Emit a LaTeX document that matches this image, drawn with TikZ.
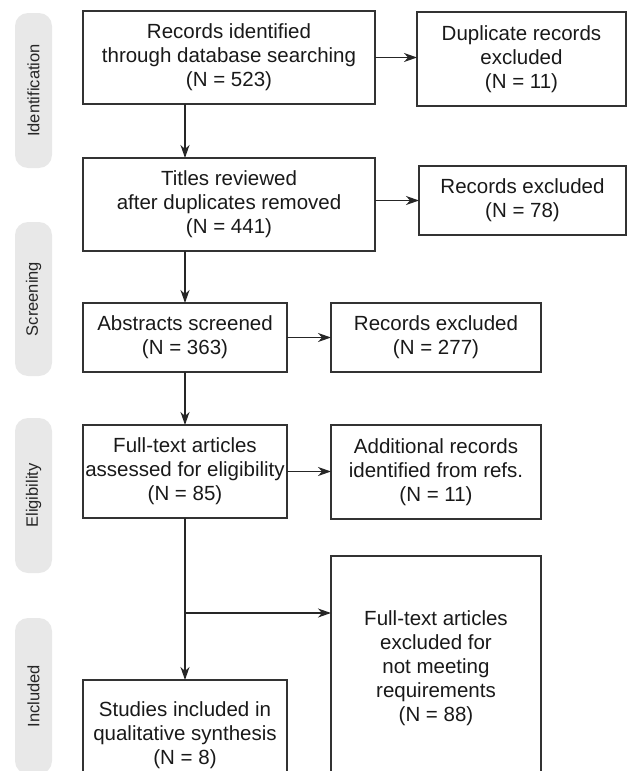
\documentclass[tikz,border=0pt]{standalone}
\usepackage{fontspec}
\setmainfont{Liberation Sans}
\usetikzlibrary{arrows.meta}

\begin{document}
\begin{tikzpicture}[x=1pt,y=-1pt,
        box/.style={draw=black!80,line width=1.3pt,inner sep=0pt,outer sep=0pt,align=center,text=black!90,font=\fontsize{20.5}{24}\selectfont},
        phase/.style={fill=black!9,rounded corners=13pt,inner sep=0pt,rotate=90,minimum height=37pt,text=black!85,font=\fontsize{16.5}{18}\selectfont},
        arr/.style={-{Stealth[length=13pt,width=9pt,inset=4pt]},line width=1.3pt,black!85}]
        \useasboundingbox (0,0) rectangle (627,771);
        \clip (0,0) rectangle (627,771);

        \node[phase,minimum width=155pt] (ident) at (33.5, 90.5) {Identification};
        \node[phase,minimum width=154pt] (screen) at (33.5, 299) {Screening};
        \node[phase,minimum width=155pt] (elig) at (33.5, 495.5) {Eligibility};
        \node[phase,minimum width=156pt] (incl) at (33.5, 696) {Included};

        \node[box,minimum width=292pt,minimum height=93pt] (found) at (229, 57.5) {Records identified\\through database searching\\(N = 523)};
        \node[box,minimum width=209pt,minimum height=94pt] (dupl) at (521.5, 59) {Duplicate records\\excluded\\(N = 11)};
        \node[box,minimum width=292pt,minimum height=93pt] (titles) at (229, 204.5) {Titles reviewed\\after duplicates removed\\(N = 441)};
        \node[box,minimum width=207pt,minimum height=69pt] (exA) at (522.5, 200.5) {Records excluded\\(N = 78)};
        \node[box,minimum width=204pt,minimum height=69pt] (abstr) at (185, 337.5) {Abstracts screened\\(N = 363)};
        \node[box,minimum width=210pt,minimum height=69pt] (exB) at (436, 337.5) {Records excluded\\(N = 277)};
        \node[box,minimum width=204pt,minimum height=93pt] (full) at (185, 471.5) {Full-text articles\\assessed for eligibility\\(N = 85)};
        \node[box,minimum width=210pt,minimum height=94pt] (refs) at (436, 472) {Additional records\\identified from refs.\\(N = 11)};
        \node[box,minimum width=204pt,minimum height=110pt] (incl) at (185, 735) {Studies included in\\qualitative synthesis\\(N = 8)};
        \node[box,minimum width=210pt,minimum height=224pt] (exC) at (436, 668) {Full-text articles\\excluded for\\not meeting\\requirements\\(N = 88)};

        \coordinate (split) at (185, 613);

        \draw[arr] (found.south -| abstr.north) -- (titles.north -| abstr.north);
        \draw[arr] (titles.south -| abstr.north) -- (abstr.north);
        \draw[arr] (abstr.south) -- (full.north);
        \draw[arr] (full.south) -- (incl.north);

        \draw[arr] (found.east) -- (found.east -| dupl.west);
        \draw[arr] (exA.west -| titles.east) -- (exA.west);
        \draw[arr] (abstr.east) -- (exB.west);
        \draw[arr] (full.east) -- (refs.west |- full.east);
        \draw[arr] (split) -- (split -| exC.west);
    \end{tikzpicture}
\end{document}
